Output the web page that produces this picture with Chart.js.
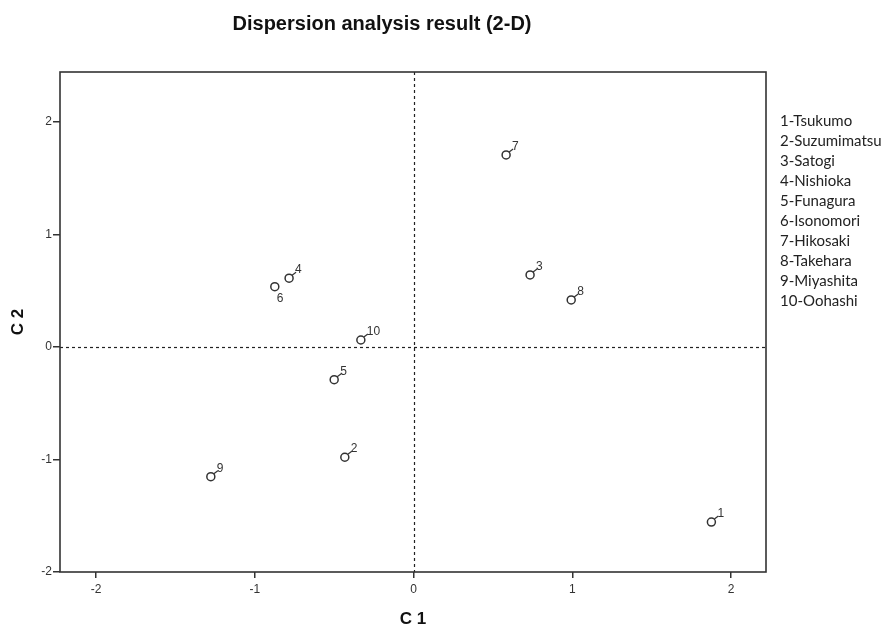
<!DOCTYPE html>
<html><head><meta charset="utf-8">
<script src="https://cdn.jsdelivr.net/npm/chart.js@4"></script>
<style>html,body{margin:0;padding:0;background:#fff}#wrap{width:887px;height:626px}</style>
</head><body><div id="wrap"><canvas id="c" width="887" height="626"></canvas></div>
<script>
const pointLabels = ["1","2","3","4","5","6","7","8","9","10"];
const c1Values = [1.876, -0.433, 0.734, -0.784, -0.50, -0.874, 0.583, 0.993, -1.277, -0.332];
const c2Values = [-1.556, -0.980, 0.640, 0.611, -0.291, 0.536, 1.707, 0.418, -1.153, 0.062];
const siteNames = ["1-Tsukumo","2-Suzumimatsu","3-Satogi","4-Nishioka","5-Funagura","6-Isonomori","7-Hikosaki","8-Takehara","9-Miyashita","10-Oohashi"];
const axisTicks = [-2, -1, 0, 1, 2];
const chartTitle = "Dispersion analysis result (2-D)";
const xTitle = "C 1";
const yTitle = "C 2";

const points = c1Values.map((x, i) => ({x: x, y: c2Values[i]}));
const FONT = '"Liberation Sans", Arial, sans-serif';

const decor = {
  id: 'decor',
  beforeDatasetsDraw(chart) {
    const {ctx, chartArea: a, scales: {x, y}} = chart;
    ctx.save();
    ctx.strokeStyle = '#222';
    ctx.lineWidth = 1.2;
    ctx.setLineDash([3, 3]);
    const x0 = Math.round(x.getPixelForValue(0)) + 0.5;
    const y0 = Math.round(y.getPixelForValue(0)) + 0.5;
    ctx.beginPath(); ctx.moveTo(x0, a.top); ctx.lineTo(x0, a.bottom); ctx.stroke();
    ctx.beginPath(); ctx.moveTo(a.left, y0); ctx.lineTo(a.right, y0); ctx.stroke();
    ctx.setLineDash([]);
    ctx.lineWidth = 1.6;
    ctx.strokeStyle = '#333';
    ctx.strokeRect(a.left, a.top, a.right - a.left, a.bottom - a.top);
    ctx.restore();
  },
  afterDatasetsDraw(chart) {
    const {ctx, chartArea: a} = chart;
    const meta = chart.getDatasetMeta(0);
    ctx.save();
    ctx.fillStyle = '#333';
    ctx.strokeStyle = '#333';
    ctx.lineWidth = 1.2;
    ctx.font = '12px ' + FONT;
    meta.data.forEach((el, i) => {
      const px = el.x, py = el.y;
      const lab = pointLabels[i];
      if (lab === '6') {
        ctx.textAlign = 'left'; ctx.textBaseline = 'top';
        ctx.fillText(lab, px + 2, py + 6);
      } else {
        ctx.beginPath(); ctx.moveTo(px + 3, py - 3); ctx.lineTo(px + 7, py - 6); ctx.stroke();
        ctx.textAlign = 'left'; ctx.textBaseline = 'alphabetic';
        ctx.fillText(lab, px + 6, py - 5);
      }
    });
    // title
    ctx.fillStyle = '#111';
    ctx.font = 'bold 20px ' + FONT;
    ctx.textAlign = 'center'; ctx.textBaseline = 'alphabetic';
    ctx.fillText(chartTitle, 382, 30);
    // axis titles
    ctx.font = 'bold 17px ' + FONT;
    ctx.textAlign = 'center'; ctx.textBaseline = 'middle';
    ctx.fillText(xTitle, (a.left + a.right) / 2, 619);
    ctx.save();
    ctx.translate(18, (a.top + a.bottom) / 2);
    ctx.rotate(-Math.PI / 2);
    ctx.fillText(yTitle, 0, 0);
    ctx.restore();
    // legend list
    ctx.fillStyle = '#222';
    ctx.font = '15px Lato, "Open Sans", sans-serif';
    ctx.textAlign = 'left'; ctx.textBaseline = 'middle';
    siteNames.forEach((n, i) => ctx.fillText(n, 780, 121 + i * 20));
    ctx.restore();
  }
};

new Chart(document.getElementById('c'), {
  type: 'scatter',
  data: { datasets: [{ data: points, pointStyle: 'circle', pointRadius: 4, pointHoverRadius: 4,
    backgroundColor: '#fff', borderColor: '#333', borderWidth: 1.5 }] },
  options: {
    responsive: false, animation: false,
    layout: { padding: { left: 0, top: 72, right: 121, bottom: 0 } },
    plugins: { legend: { display: false }, tooltip: { enabled: false }, title: { display: false } },
    scales: {
      x: {
        type: 'linear', min: -2.227, max: 2.220,
        afterBuildTicks: s => { s.ticks = axisTicks.map(v => ({value: v})); },
        afterFit: s => { s.height = 54; },
        grid: { display: true, drawOnChartArea: false, drawTicks: true, tickLength: 6, color: '#333', lineWidth: 1.5 },
        border: { display: false },
        ticks: { color: '#333', font: { family: FONT, size: 12 }, padding: 4, maxRotation: 0 },
        title: { display: false }
      },
      y: {
        type: 'linear', min: -2, max: 2.444,
        afterBuildTicks: s => { s.ticks = axisTicks.map(v => ({value: v})); },
        afterFit: s => { s.width = 60; },
        grid: { display: true, drawOnChartArea: false, drawTicks: true, tickLength: 7, color: '#333', lineWidth: 1.5 },
        border: { display: false },
        ticks: { color: '#333', font: { family: FONT, size: 12 }, padding: 1 },
        title: { display: false }
      }
    }
  },
  plugins: [decor]
});
</script></body></html>
